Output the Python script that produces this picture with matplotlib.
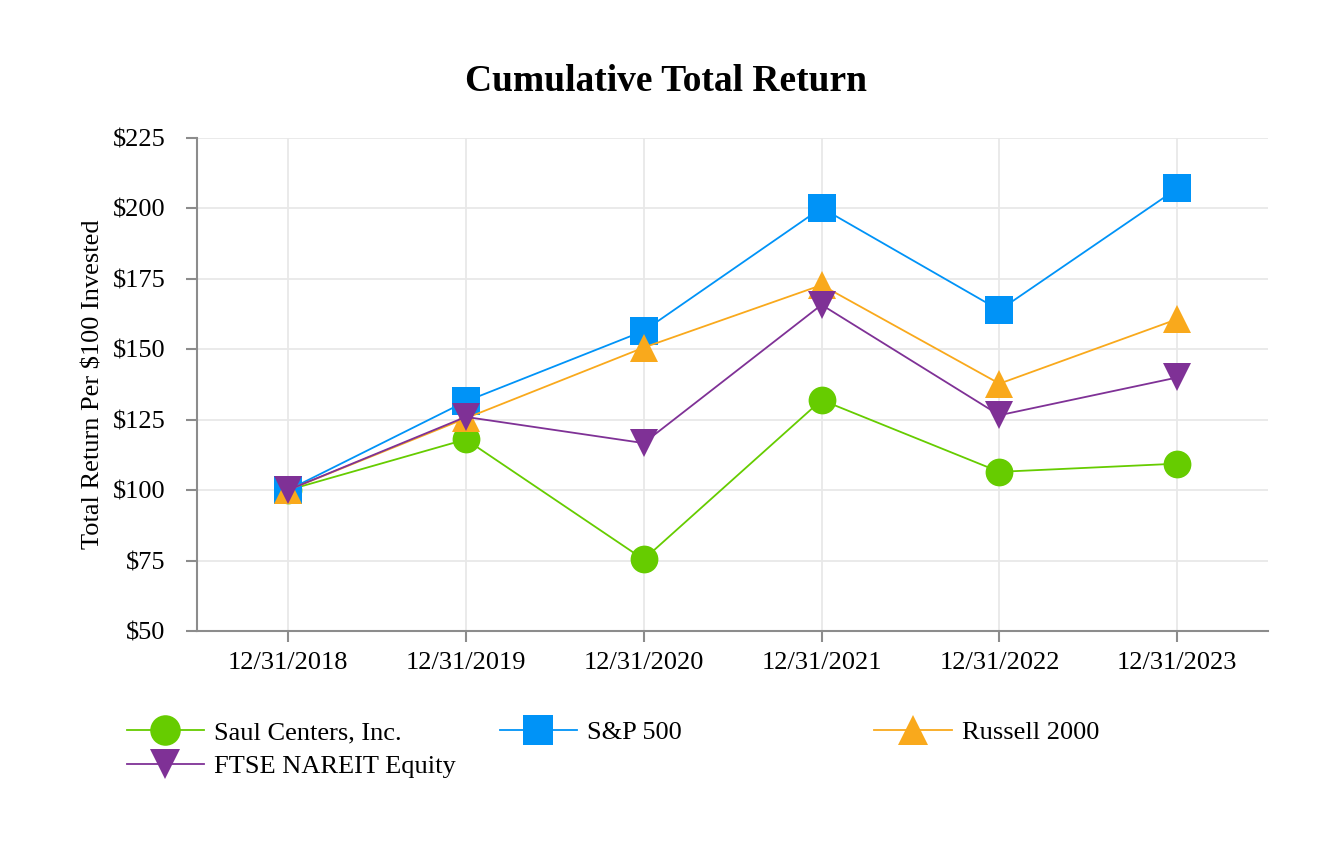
import matplotlib.pyplot as plt
from matplotlib.lines import Line2D

plt.rcParams['font.family'] = ['Liberation Serif', 'DejaVu Serif']

dates = ['12/31/2018', '12/31/2019', '12/31/2020', '12/31/2021', '12/31/2022', '12/31/2023']
saul = [100, 118.0, 75.4, 132.0, 106.5, 109.4]
sp500 = [100, 131.5, 156.5, 200.2, 163.9, 207.1]
russell = [100, 125.5, 150.6, 172.8, 137.8, 160.7]
nareit = [100, 126.0, 116.7, 165.8, 126.6, 140.0]

series = [
    ('Saul Centers, Inc.', saul, '#66cc00', 'o'),
    ('S&P 500', sp500, '#0093f7', 's'),
    ('Russell 2000', russell, '#f9a91c', '^'),
    ('FTSE NAREIT Equity', nareit, '#7f3196', 'v'),
]

fig = plt.figure(figsize=(13.32, 8.52), dpi=100)
ax = fig.add_axes([0.148, 0.2594, 0.804, 0.5786])

x = list(range(len(dates)))
handles = {}
for label, vals, color, marker in series:
    ax.plot(x, vals, color=color, lw=1.3, marker=marker, markersize=20,
            markeredgewidth=0, zorder=3)
    handles[label] = Line2D([], [], color=color, lw=1.3, marker=marker,
                            markersize=22, markeredgewidth=0)

ax.set_xlim(-0.51, 5.51)
ax.set_ylim(50, 225)
ax.set_yticks(range(50, 226, 25))
ax.set_yticklabels([f'${v}' for v in range(50, 226, 25)])
ax.set_xticks(x)
ax.set_xticklabels(dates)
ax.grid(True, color='#e8e8e8', lw=1.3, zorder=0)
ax.set_axisbelow(True)
for s in ['top', 'right']:
    ax.spines[s].set_visible(False)
for s in ['left', 'bottom']:
    ax.spines[s].set_color('#8c8c8c')
    ax.spines[s].set_linewidth(1.5)
ax.tick_params(axis='both', labelsize=19, colors='#8c8c8c', labelcolor='black',
               length=8, width=1.5)
ax.tick_params(axis='x', pad=7)
ax.tick_params(axis='y', pad=15)
ax.set_ylabel('Total Return Per $100 Invested', fontsize=19, labelpad=6)

fig.text(0.5, 0.904, 'Cumulative Total Return', ha='center', va='center',
         fontsize=27, fontweight='bold')

leg_kw = dict(frameon=False, fontsize=19, handlelength=2.95, handletextpad=0.38,
              borderpad=0, borderaxespad=0, labelspacing=0.38, loc='upper left')
groups = [(0.095, ['Saul Centers, Inc.', 'FTSE NAREIT Equity']),
          (0.375, ['S&P 500']),
          (0.656, ['Russell 2000'])]
for xpos, labels in groups:
    fig.legend([handles[l] for l in labels], labels,
               bbox_to_anchor=(xpos, 0.154), **leg_kw)

fig.savefig('out.png', dpi=100)
